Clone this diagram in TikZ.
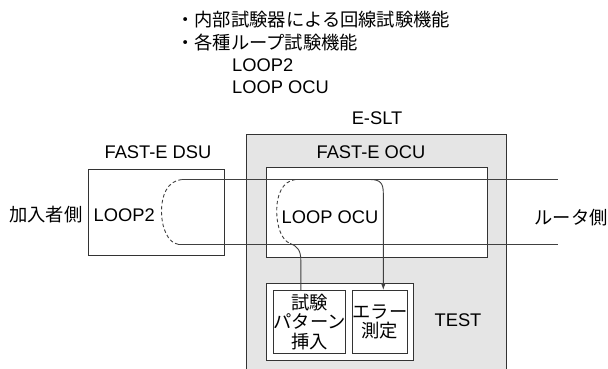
\documentclass[tikz,border=0pt]{standalone}
\usepackage{fontspec}
\setmainfont{Liberation Sans}
\newfontfamily\jp{Noto Sans CJK JP}
\usetikzlibrary{arrows.meta}

\begin{document}
\begin{tikzpicture}[x=1pt,y=-1pt,
  every node/.style={inner sep=0pt, font=\fontsize{18.3pt}{19.5pt}\selectfont},
  jptext/.style={font=\fontsize{18.3pt}{19.5pt}\selectfont\jp},
  frame/.style={draw=black!80, line width=0.9pt},
  wire/.style={draw=black!75, line width=0.9pt},
  loopback/.style={wire, dash pattern=on 3.5pt off 2.5pt},
  tip/.style={-{Latex[length=7pt,width=5pt]}},
]
\clip (0,0) rectangle (608,369);
\fill[white] (0,0) rectangle (608,369);

% equipment frames
\node[frame, fill=black!10, anchor=north west, minimum width=260pt, minimum height=250pt] (eslt) at (246,134) {};
\node[frame, fill=white, anchor=north west, minimum width=221pt, minimum height=90pt] (ocu) at (266,167) {};
\node[frame, fill=white, anchor=north west, minimum width=136pt, minimum height=86pt] (dsu) at (88,169) {};
\node[frame, fill=white, anchor=north west, minimum width=147pt, minimum height=77pt] (test) at (266,283) {};
\node[frame, fill=white, anchor=north west, minimum width=69pt, minimum height=63pt, align=center, jptext] (pat) at (273,290) {試験\\パターン\\挿入};
\node[frame, fill=white, anchor=north west, minimum width=53pt, minimum height=63pt, align=center, jptext] (err) at (352,290) {エラー\\測定};

% line end points
\coordinate (topL) at (181.7,179.5);
\coordinate (topR) at (558,179.5);
\coordinate (botL) at (178.3,244.3);
\coordinate (botR) at (558,244.3);
\coordinate (ocuIn) at (295.5,179.5);
\coordinate (ocuOut) at (290,243.5);
\coordinate (tapIn) at (300.8,260);
\coordinate (tapOut) at (370,179.5);
\coordinate (tapDown) at (383.3,193);

% two-wire line
\draw[wire] (topL) -- (topR);
\draw[wire] (botL) -- (botR);

% LOOP2 at the DSU
\draw[loopback] (topL) .. controls (167,181) and (161.5,196) .. (161.5,211)
  .. controls (161.5,228) and (168,243) .. (botL);

% LOOP OCU and the test pattern path
\draw[loopback] (ocuIn) .. controls (282,181) and (276.7,196) .. (276.7,210)
  .. controls (276.7,228) and (282,240) .. (ocuOut);
\draw[wire] (ocuOut) .. controls (297,246) and (300.8,250) .. (tapIn) -- (tapIn |- pat.north);
\draw[wire, tip] (tapOut) .. controls (380,179.5) and (383.3,183) .. (tapDown) -- (tapDown |- err.north);

% labels
\node[jptext, anchor=west] (h1) at (176,20) {・内部試験器による回線試験機能};
\node[jptext, anchor=west] (h2) at (176,43) {・各種ループ試験機能};
\node[anchor=west] (h3) at (232,65) {LOOP2};
\node[anchor=west] (h4) at (232,87) {LOOP OCU};
\node (esltlabel) at (377,118) {E-SLT};
\node (dsulabel) at (158,152) {FAST-E DSU};
\node (oculabel) at (371,152) {FAST-E OCU};
\node[jptext] (subscriber) at (46,215) {加入者側};
\node[anchor=west] (loop2) at (93.5,215) {LOOP2};
\node[anchor=west] (loopocu) at (281.5,217) {LOOP OCU};
\node[jptext] (router) at (571,218) {ルータ側};
\node (testlabel) at (458,320) {TEST};
\end{tikzpicture}
\end{document}
